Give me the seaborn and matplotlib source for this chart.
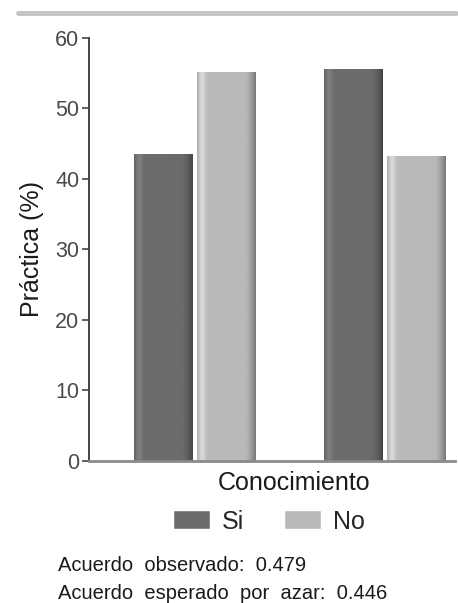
import numpy as np
import pandas as pd
import matplotlib
matplotlib.use("Agg")
import matplotlib.pyplot as plt
import seaborn as sns
from matplotlib.lines import Line2D
from matplotlib.patches import Rectangle

# Conocimiento groups on the x axis, Práctica (Si / No) as hue
conocimiento = ["Si", "No"]
practica = ["Si", "No"]
pct_si = [43.5, 55.6]
pct_no = [55.2, 43.3]
yticks = [0, 10, 20, 30, 40, 50, 60]
acuerdo_observado = 0.479
acuerdo_esperado = 0.446

df = pd.DataFrame({
    "Conocimiento": conocimiento * 2,
    "Práctica": [practica[0]] * 2 + [practica[1]] * 2,
    "pct": pct_si + pct_no,
})

sns.set_theme(style="white")
plt.rcParams["font.family"] = ["Liberation Sans", "DejaVu Sans"]

dark = "#6b6b6b"
light = "#b9b9b9"

fig = plt.figure(figsize=(4.58, 6.03), dpi=100)
ax = fig.add_axes([0.194, 0.236, 0.799, 0.701])

sns.barplot(data=df, x="Conocimiento", y="pct", hue="Práctica",
            order=conocimiento, hue_order=practica,
            palette=[dark, light], width=0.66, gap=0.06,
            linewidth=0, legend=False, ax=ax)

# horizontal shading on each bar for a rounded look
for patch, base in zip(ax.patches, [dark] * 2 + [light] * 2):
    x0, y0 = patch.get_x(), patch.get_y()
    w, h = patch.get_width(), patch.get_height()
    rgb = np.array(matplotlib.colors.to_rgb(base))
    t = np.linspace(0, 1, 64)
    shade = 1.0 + 0.18 * np.exp(-((t - 0.08) / 0.06) ** 2) - 0.35 * np.clip((t - 0.82) / 0.18, 0, 1) ** 1.5
    shade -= 0.08 * np.clip((0.06 - t) / 0.06, 0, 1)
    img = np.clip(rgb[None, None, :] * shade[None, :, None], 0, 1)
    im = ax.imshow(img, extent=[x0, x0 + w, y0, y0 + h], aspect="auto",
                   interpolation="bilinear", zorder=patch.get_zorder() + 0.1)
    im.set_clip_path(patch)

ax.set_xlim(-0.56, 1.37)
ax.set_ylim(0, 60)
ax.set_yticks(yticks)
ax.set_yticklabels([str(v) for v in yticks], fontsize=15.5, color="#4a4a4a")
ax.set_xticks([])
ax.tick_params(axis="y", direction="out", length=5, width=1.2, color="#444444", pad=2, left=True)
ax.set_xlabel("Conocimiento", fontsize=18, color="#1a1a1a", labelpad=8)
ax.xaxis.set_label_coords(0.56, -0.024, transform=ax.transAxes)
ax.xaxis.label.set_va("top")
ax.set_ylabel("Práctica (%)", fontsize=18, color="#1a1a1a", labelpad=8)

for side in ["top", "right"]:
    ax.spines[side].set_visible(False)
ax.spines["left"].set_color("#444444")
ax.spines["left"].set_linewidth(1.4)
ax.spines["bottom"].set_color("#8a8a8a")
ax.spines["bottom"].set_linewidth(2.0)

handles = [Rectangle((0, 0), 1, 1, facecolor=dark), Rectangle((0, 0), 1, 1, facecolor=light)]
fig.legend(handles, practica, loc="center", bbox_to_anchor=(0.588, 0.135),
           ncol=2, frameon=False, fontsize=18, handlelength=1.45, handleheight=0.8,
           columnspacing=1.6, handletextpad=0.5)

# separator rule at the top
fig.add_artist(Line2D([0.04, 0.995], [0.979, 0.979], color="#c4c4c4", linewidth=3.5))

fig.text(0.127, 0.062, f"Acuerdo  observado:  {acuerdo_observado:.3f}", fontsize=14.5, color="#1a1a1a", va="center")
fig.text(0.127, 0.016, f"Acuerdo  esperado  por  azar:  {acuerdo_esperado:.3f}", fontsize=14.5, color="#1a1a1a", va="center")

fig.savefig("out.png", dpi=100)
